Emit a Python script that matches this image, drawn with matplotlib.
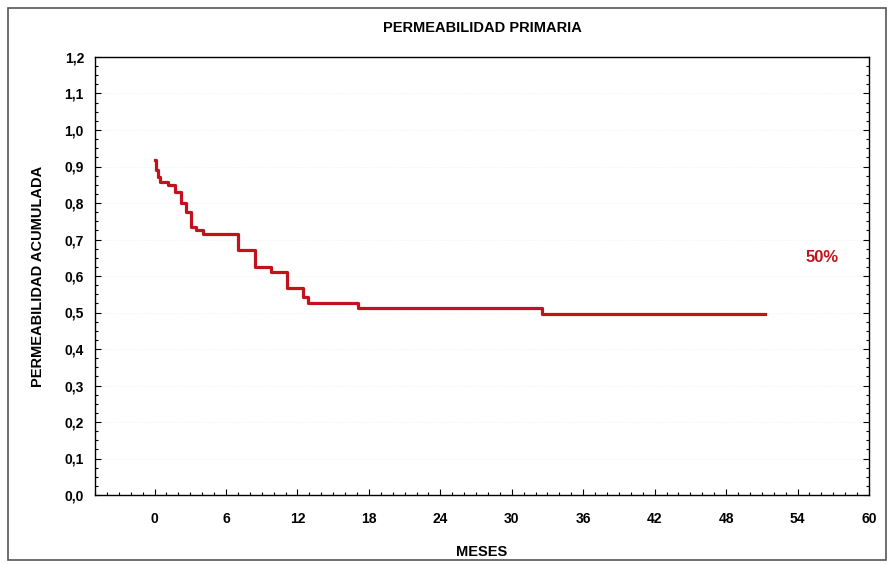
import matplotlib.pyplot as plt
from matplotlib.ticker import MultipleLocator, FuncFormatter
from matplotlib.patches import Rectangle

# Kaplan-Meier steps (months, cumulative patency)
MESES = [0, 0.1, 0.3, 0.5, 1.1, 1.7, 2.25, 2.65, 3.1, 3.5, 4.05,
         7.0, 8.4, 9.8, 11.1, 12.5, 12.9, 17.1, 32.5, 51.3]
PERMEABILIDAD = [0.918, 0.89, 0.87, 0.858, 0.85, 0.831, 0.80, 0.776, 0.735, 0.726, 0.715,
                 0.671, 0.625, 0.612, 0.566, 0.543, 0.527, 0.512, 0.495, 0.495]
X_TICKS = [0, 6, 12, 18, 24, 30, 36, 42, 48, 54, 60]
Y_TICKS = [0.0, 0.1, 0.2, 0.3, 0.4, 0.5, 0.6, 0.7, 0.8, 0.9, 1.0, 1.1, 1.2]
ETIQUETA = '50%'

RED = '#c2121c'

plt.rcParams['font.family'] = ['Liberation Sans', 'DejaVu Sans']
plt.rcParams['font.weight'] = 'bold'

fig = plt.figure(figsize=(8.88, 5.64), dpi=100)
ax = fig.add_axes([95 / 888, 1 - 495 / 564, (869 - 95) / 888, (495 - 57) / 564])

# outer frame around the whole figure
fig.patches.append(Rectangle((8 / 888, 4 / 564), 878 / 888, 552 / 564,
                             transform=fig.transFigure, fill=False,
                             edgecolor='#555555', linewidth=1.2))

ax.step(MESES, PERMEABILIDAD, where='post', color=RED, linewidth=2.3)

ax.set_xlim(-5, 60)
ax.set_ylim(0, 1.2)
ax.set_xticks(X_TICKS)
ax.set_yticks(Y_TICKS)
ax.xaxis.set_minor_locator(MultipleLocator(1))
ax.yaxis.set_minor_locator(MultipleLocator(0.025))
ax.yaxis.set_major_formatter(FuncFormatter(lambda v, p: f'{v:.1f}'.replace('.', ',')))
ax.tick_params(which='both', direction='in', top=False, right=True,
               labelsize=10, width=0.8)
ax.tick_params(axis='x', pad=12)
ax.tick_params(axis='y', pad=8)
ax.tick_params(which='major', length=4)
ax.tick_params(which='minor', length=2)
for lab in ax.get_xticklabels() + ax.get_yticklabels():
    lab.set_fontweight('bold')
for s in ax.spines.values():
    s.set_linewidth(1.0)

ax.grid(True, axis='y', color='#eeeeee', linestyle=':', linewidth=0.6)

ax.set_title('PERMEABILIDAD PRIMARIA', fontsize=10.5, fontweight='bold', pad=18)
ax.set_xlabel('MESES', fontsize=10.5, fontweight='bold', labelpad=14)
ax.set_ylabel('PERMEABILIDAD ACUMULADA', fontsize=10.5, fontweight='bold', labelpad=14)

ax.text(56.1, 0.652, ETIQUETA, color=RED, fontsize=12, fontweight='bold',
        ha='center', va='center')

fig.savefig('out.png', dpi=100)
